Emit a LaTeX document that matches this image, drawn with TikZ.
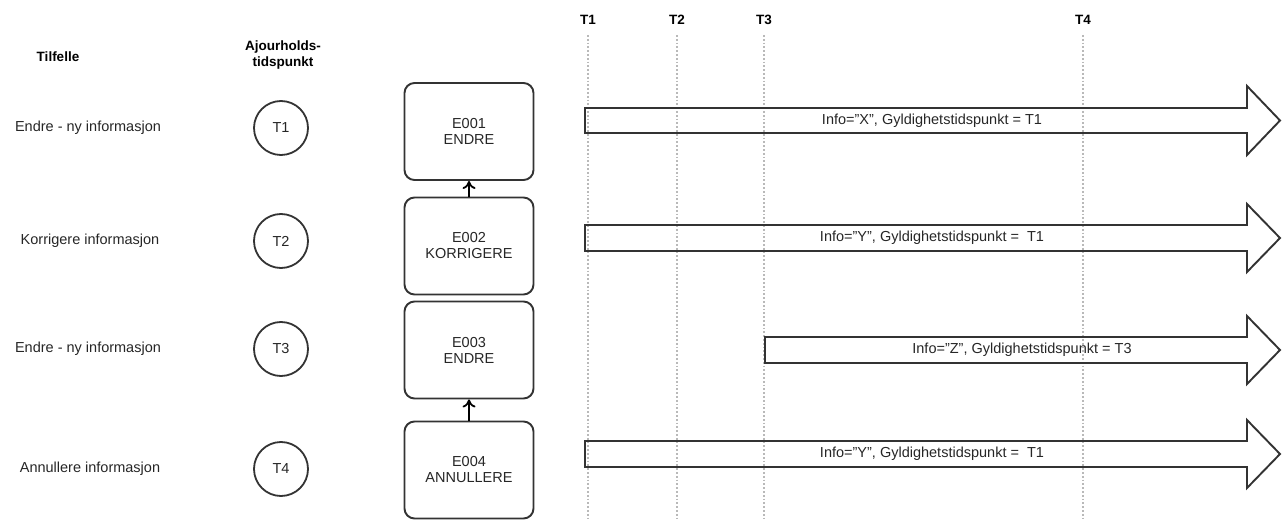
\documentclass[tikz,border=0pt]{standalone}
\usepackage{fontspec}
\setmainfont{Liberation Sans}
\usetikzlibrary{arrows.meta}
\definecolor{linegray}{RGB}{51,51,51}
\definecolor{dotgray}{RGB}{185,185,185}
\tikzset{
	txt/.style={font=\fontsize{14.5}{16}\selectfont,text=black!85},
	head/.style={font=\bfseries\fontsize{13.5}{16}\selectfont,align=center},
	event/.style={txt,draw=linegray,line width=1.9pt,rounded corners=10pt,minimum width=129pt,minimum height=97pt,align=center},
	moment/.style={txt,draw=linegray,line width=1.8pt,circle,minimum size=54pt,inner sep=0pt},
	timeline/.style={dotgray,line width=1.8pt,dotted},
	validity/.style={draw=linegray,line width=1.9pt,line join=miter},
	link/.style={black,line width=1.9pt,-{To[length=8pt,width=13pt,line width=1.8pt]}}
}
\begin{document}
\begin{tikzpicture}[x=1pt,y=-1pt]
			\useasboundingbox (0,0) rectangle (1285,521);
			\coordinate (bottom) at (0,521);

			\node[head] (tilfelle)at(58,57) {Tilfelle};
			\node[head] (ajour)at(283,55) {Ajourholds-\\tidspunkt};

			\node[head] (h1)at(588,20) {T1};
			\node[head] (h2)at(677,20) {T2};
			\node[head] (h3)at(764,20) {T3};
			\node[head] (h4)at(1083,20) {T4};

			\draw[timeline] (h1.south|-0,35) -- (h1.south|-bottom);
			\draw[timeline] (h2.south|-0,35) -- (h2.south|-bottom);
			\draw[timeline] (h3.south|-0,35) -- (h3.south|-bottom);
			\draw[timeline] (h4.south|-0,35) -- (h4.south|-bottom);

			\node[txt] (c1)at(88,128) {Endre - ny informasjon};
			\node[txt] (c2)at(90,241) {Korrigere informasjon};
			\node[txt] (c3)at(88,349) {Endre - ny informasjon};
			\node[txt] (c4)at(90,469) {Annullere informasjon};

			\node[moment] (t1)at(281,128) {T1};
			\node[moment] (t2)at(281,241) {T2};
			\node[moment] (t3)at(281,349) {T3};
			\node[moment] (t4)at(281,469) {T4};

			\node[event] (e1)at(469,131.5) {E001\\ENDRE};
			\node[event] (e2)at(469,246) {E002\\KORRIGERE};
			\node[event] (e3)at(469,350) {E003\\ENDRE};
			\node[event] (e4)at(469,470) {E004\\ANNULLERE};

			\draw[link] (e2) -- (e1);
			\draw[link] (e4) -- (e3);

			\draw[validity] (585,108) -- (1247,108) -- (1247,86) -- (1280,120.5) -- (1247,155) -- (1247,133) -- (585,133) -- cycle;
			\draw[validity] (585,225) -- (1247,225) -- (1247,204) -- (1280,238) -- (1247,272) -- (1247,251) -- (585,251) -- cycle;
			\draw[validity] (765,337) -- (1247,337) -- (1247,316) -- (1280,350) -- (1247,384) -- (1247,363) -- (765,363) -- cycle;
			\draw[validity] (585,441) -- (1247,441) -- (1247,420) -- (1280,454) -- (1247,488) -- (1247,467) -- (585,467) -- cycle;

			\node[txt] (v1)at(932,120.5) {Info="X", Gyldighetstidspunkt = T1};
			\node[txt] (v2)at(932,238) {Info="Y", Gyldighetstidspunkt = \ T1};
			\node[txt] (v3)at(1022,350) {Info="Z", Gyldighetstidspunkt = T3};
			\node[txt] (v4)at(932,454) {Info="Y", Gyldighetstidspunkt = \ T1};
		\end{tikzpicture}
\end{document}
